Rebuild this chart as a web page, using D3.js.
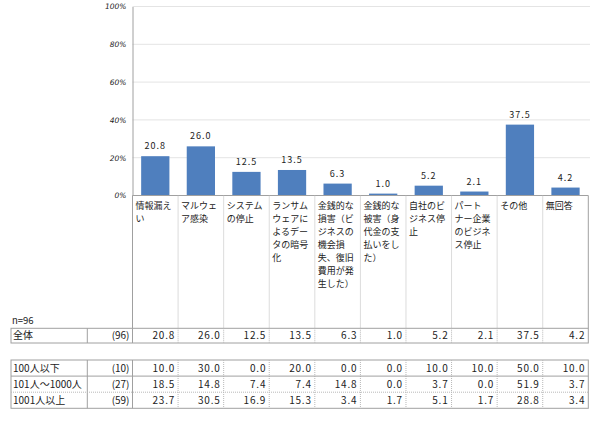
<!DOCTYPE html>
<html lang="ja">
<head>
<meta charset="UTF-8">
<title>被害の内容</title>
<script src="https://cdn.jsdelivr.net/npm/d3@7"></script>
<style>
  body { margin: 0; background: #fff; }
  text { font-family: "Noto Sans CJK JP", "Noto Sans", sans-serif; fill: #222; }
</style>
</head>
<body>
<div id="chart"></div>
<script>
// categories (line breaks as in the picture)
var categories = [
  ["情報漏え", "い"],
  ["マルウェ", "ア感染"],
  ["システム", "の停止"],
  ["ランサム", "ウェアに", "よるデー", "タの暗号", "化"],
  ["金銭的な", "損害（ビ", "ジネスの", "機会損", "失、復旧", "費用が発", "生した）"],
  ["金銭的な", "被害（身", "代金の支", "払いをし", "た）"],
  ["自社のビ", "ジネス停", "止"],
  ["パート", "ナー企業", "のビジネ", "ス停止"],
  ["その他"],
  ["無回答"]
];
var totalValues = [20.8, 26.0, 12.5, 13.5, 6.3, 1.0, 5.2, 2.1, 37.5, 4.2];
var yTicks = [0, 20, 40, 60, 80, 100];
var totalLabel = "全体", totalN = 96;
var groupLabels = ["100人以下", "101人～1000人", "1001人以上"];
var groupN = [10, 27, 59];
var groupValues = [
  [10.0, 30.0, 0.0, 20.0, 0.0, 0.0, 10.0, 10.0, 50.0, 10.0],
  [18.5, 14.8, 7.4, 7.4, 14.8, 0.0, 3.7, 0.0, 51.9, 3.7],
  [23.7, 30.5, 16.9, 15.3, 3.4, 1.7, 5.1, 1.7, 28.8, 3.4]
];

var W = 590, H = 421;
var svg = d3.select("#chart").append("svg")
  .attr("width", W).attr("height", H);

var x0 = 132.5, x1 = 588.3;
var x = d3.scaleBand().domain(d3.range(categories.length)).range([x0, x1]);
var y = d3.scaleLinear().domain([0, 100]).range([195.5, 6.5]);
var catBottom = 328.3;

// gridlines
svg.append("g").selectAll("line")
  .data(yTicks.slice(1))
  .enter().append("line")
  .attr("x1", x0).attr("x2", W)
  .attr("y1", function(d){ return y(d); })
  .attr("y2", function(d){ return y(d); })
  .attr("stroke", "#e4e4e4");

// y axis
var yAxis = svg.append("g")
  .attr("transform", "translate(" + x0 + ",0)")
  .call(d3.axisLeft(y).tickValues(yTicks).tickSize(0).tickPadding(6)
    .tickFormat(function(d){ return d + "%"; }));
yAxis.select(".domain").attr("stroke", "#a0a0a0");
yAxis.selectAll("text")
  .style("font-family", "'DejaVu Sans', sans-serif")
  .style("font-size", "7.5px")
  .style("font-style", "italic")
  .attr("fill", "#333");

// bars
var barW = x.bandwidth() * 0.62;
svg.append("g").selectAll("rect")
  .data(totalValues)
  .enter().append("rect")
  .attr("x", function(d, i){ return x(i) + (x.bandwidth() - barW) / 2; })
  .attr("width", barW)
  .attr("y", function(d){ return y(d); })
  .attr("height", function(d){ return y(0) - y(d); })
  .attr("fill", "#4f7fbe");

// value labels
svg.append("g").selectAll("text")
  .data(totalValues)
  .enter().append("text")
  .attr("x", function(d, i){ return x(i) + x.bandwidth() / 2; })
  .attr("y", function(d){ return y(d) - 7; })
  .attr("text-anchor", "middle")
  .style("font-size", "9px")
  .style("letter-spacing", "1px")
  .text(function(d){ return d.toFixed(1); });

// x axis baseline
svg.append("line")
  .attr("x1", x0).attr("x2", x1)
  .attr("y1", y(0)).attr("y2", y(0))
  .attr("stroke", "#a0a0a0");

// category area separators
svg.append("g").selectAll("line")
  .data(d3.range(1, categories.length))
  .enter().append("line")
  .attr("x1", function(i){ return x(i); })
  .attr("x2", function(i){ return x(i); })
  .attr("y1", y(0)).attr("y2", catBottom)
  .attr("stroke", "#b8b8b8")
  .attr("stroke-dasharray", "1,1");
[x0, x1].forEach(function(px){
  svg.append("line")
    .attr("x1", px).attr("x2", px)
    .attr("y1", y(0)).attr("y2", catBottom)
    .attr("stroke", "#a0a0a0");
});

// category labels, one text per line
var catLines = [];
categories.forEach(function(lines, i){
  lines.forEach(function(s, k){ catLines.push({i: i, k: k, s: s}); });
});
svg.append("g").selectAll("text")
  .data(catLines)
  .enter().append("text")
  .attr("x", function(d){ return x(d.i) + 3; })
  .attr("y", function(d){ return 208.5 + d.k * 13.1; })
  .style("font-size", "9px")
  .text(function(d){ return d.s; });

// table
var tLeft = 11, labelSep = 87.3;
function drawRows(top, rowH, labels, ns, rows, dividers) {
  var bottom = top + rowH * rows.length;
  var g = svg.append("g");
  g.append("rect")
    .attr("x", tLeft).attr("y", top)
    .attr("width", x1 - tLeft).attr("height", bottom - top)
    .attr("fill", "none").attr("stroke", "#a0a0a0");
  [labelSep, x0].forEach(function(px){
    g.append("line").attr("x1", px).attr("x2", px)
      .attr("y1", top).attr("y2", bottom).attr("stroke", "#a0a0a0");
  });
  g.selectAll("line.vsep")
    .data(d3.range(1, categories.length))
    .enter().append("line")
    .attr("class", "vsep")
    .attr("x1", function(i){ return x(i); })
    .attr("x2", function(i){ return x(i); })
    .attr("y1", top).attr("y2", bottom)
    .attr("stroke", "#b8b8b8").attr("stroke-dasharray", "1,1");
  dividers.forEach(function(dash, k){
    g.append("line")
      .attr("x1", tLeft).attr("x2", x1)
      .attr("y1", top + rowH * (k + 1)).attr("y2", top + rowH * (k + 1))
      .attr("stroke", dash ? "#b8b8b8" : "#a0a0a0")
      .attr("stroke-dasharray", dash ? "1,1" : null);
  });
  rows.forEach(function(vals, r){
    var ty = top + rowH * r + rowH / 2 + 3.8;
    g.append("text").attr("x", tLeft + 2).attr("y", ty)
      .style("font-size", "10px").text(labels[r]);
    g.append("text").attr("x", x0 - 3).attr("y", ty)
      .attr("text-anchor", "end")
      .style("font-size", "10px").text("(" + ns[r] + ")");
    g.selectAll("text.val" + r)
      .data(vals)
      .enter().append("text")
      .attr("class", "val" + r)
      .attr("x", function(d, i){ return x(i) + x.bandwidth() - 3; })
      .attr("y", ty)
      .attr("text-anchor", "end")
      .style("font-size", "10px")
      .style("letter-spacing", "0.8px")
      .text(function(d){ return d.toFixed(1); });
  });
}

svg.append("text").attr("x", tLeft + 1).attr("y", 324)
  .style("font-size", "9.5px").text("n=" + totalN);

drawRows(328.3, 14.7, [totalLabel], [totalN], [totalValues], []);
drawRows(360, 16.1, groupLabels, groupN, groupValues, [false, true]);
</script>
</body>
</html>
